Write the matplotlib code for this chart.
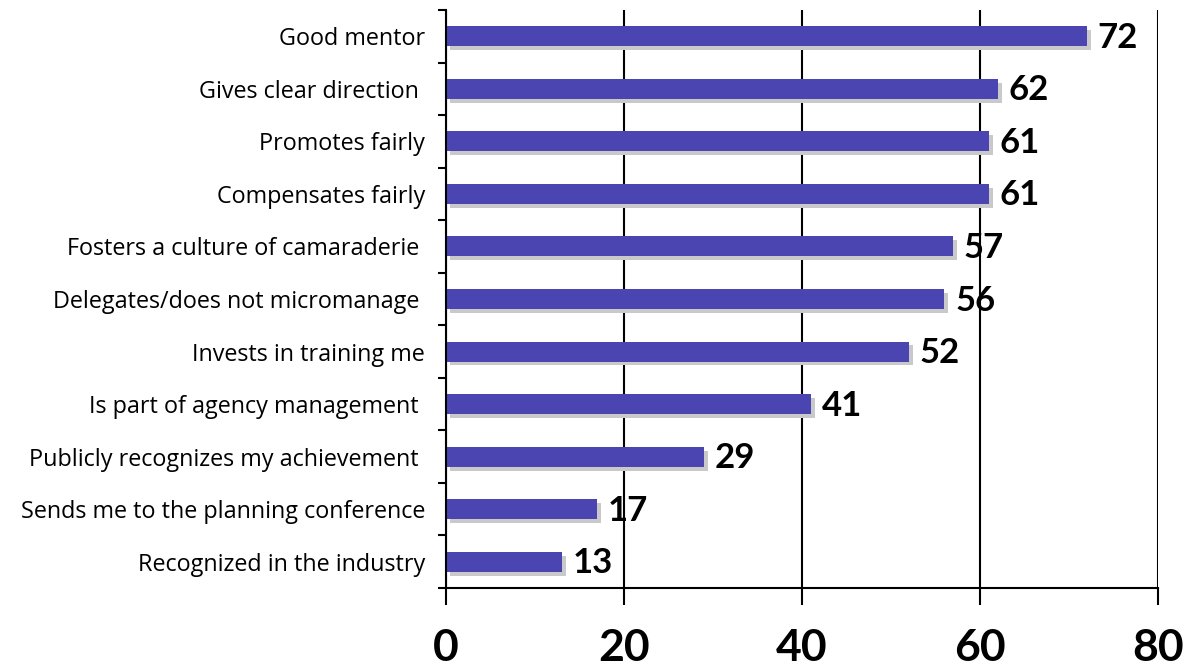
import numpy as np
import matplotlib.pyplot as plt
from matplotlib.ticker import FixedLocator

categories = [
    "Good mentor",
    "Gives clear direction ",
    "Promotes fairly",
    "Compensates fairly",
    "Fosters a culture of camaraderie ",
    "Delegates/does not micromanage ",
    "Invests in training me",
    "Is part of agency management ",
    "Publicly recognizes my achievement ",
    "Sends me to the planning conference",
    "Recognized in the industry",
]
values = [72, 62, 61, 61, 57, 56, 52, 41, 29, 17, 13]
xticks = [0, 20, 40, 60, 80]

bar_color = "#4a45b0"
shadow_color = "#c9c9c9"

fig = plt.figure(figsize=(11.9, 6.68), dpi=100)
ax = fig.add_axes([0.3748, 0.1198, 0.5983, 0.8652])

y = np.arange(len(categories))[::-1]
h = 0.38

# shadow first, slightly offset right/down
ax.barh(y - 0.075, values, height=h, left=0.45, color=shadow_color, zorder=2)
ax.barh(y, values, height=h, color=bar_color, zorder=3)

for yi, v in zip(y, values):
    ax.text(v + 1.2, yi - 0.03, str(v), va="center", ha="left",
            fontsize=25, fontweight="bold", family="Lato", zorder=4)

ax.set_xlim(0, 80)
ax.set_ylim(-0.5, len(categories) - 0.5)
ax.set_xticks(xticks)
ax.set_xticklabels([str(t) for t in xticks], fontsize=32, fontweight="bold", family="Lato")
ax.tick_params(axis="x", direction="out", length=12, width=1.5, pad=17)

ax.set_yticks(y)
ax.set_yticklabels(categories, fontsize=16.8, family="Open Sans")
ax.tick_params(axis="y", which="major", length=0, pad=15)
ax.yaxis.set_minor_locator(FixedLocator(np.arange(-0.5, len(categories), 1.0)))
ax.tick_params(axis="y", which="minor", direction="out", length=6, width=1.5)

ax.xaxis.grid(True, color="black", linewidth=1.5, zorder=1)
ax.set_axisbelow(True)
for s in ["top", "right"]:
    ax.spines[s].set_visible(False)
for s in ["left", "bottom"]:
    ax.spines[s].set_linewidth(1.5)
    ax.spines[s].set_zorder(5)

fig.savefig("out.png", dpi=100)
